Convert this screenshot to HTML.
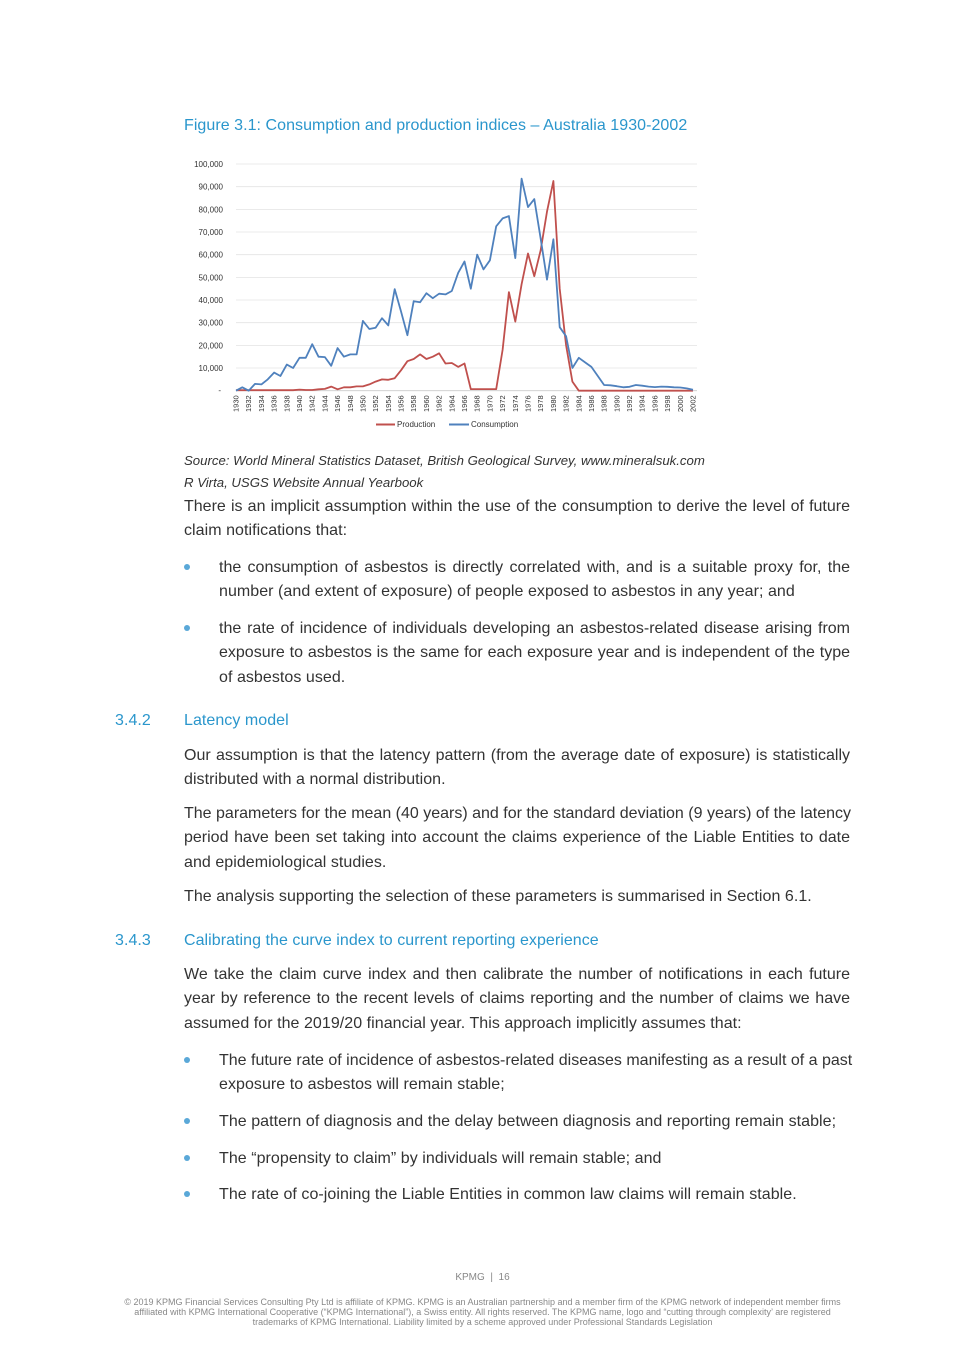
<!DOCTYPE html>
<html><head><meta charset="utf-8"><style>
body{margin:0;background:#fff;}
#p{position:relative;width:965px;height:1365px;overflow:hidden;font-family:"Liberation Sans",sans-serif;color:#333;}
.l{position:absolute;height:20px;line-height:20px;font-size:16px;white-space:nowrap;letter-spacing:0.05px;}
.j{text-align:justify;text-align-last:justify;letter-spacing:0;}
.b{color:#2a96cc;}
.dot{position:absolute;width:6px;height:6px;border-radius:3px;background:#5aa8d8;}
.i{font-style:italic;font-size:13.2px;letter-spacing:0;}
.f{position:absolute;left:0;width:965px;text-align:center;font-size:9px;color:#888;line-height:10px;}
</style></head><body><div id="p">
<div class="l b" style="left:184px;top:116px;">Figure 3.1: Consumption and production indices – Australia 1930-2002</div>
<svg id="ch" style="position:absolute;left:0;top:0" width="965" height="440"></svg>
<div class="l i" style="left:184px;top:451px;">Source: World Mineral Statistics Dataset, British Geological Survey, www.mineralsuk.com</div>
<div class="l i" style="left:184px;top:473px;">R Virta, USGS Website Annual Yearbook</div>
<div class="l j" style="left:184px;top:497px;width:666px;">There is an implicit assumption within the use of the consumption to derive the level of future</div>
<div class="l" style="left:184px;top:521px;">claim notifications that:</div>
<div class="dot" style="left:184px;top:564px"></div>
<div class="l j" style="left:219px;top:558px;width:631px;">the consumption of asbestos is directly correlated with, and is a suitable proxy for, the</div>
<div class="l" style="left:219px;top:582px;">number (and extent of exposure) of people exposed to asbestos in any year; and</div>
<div class="dot" style="left:184px;top:625px"></div>
<div class="l j" style="left:219px;top:619px;width:631px;">the rate of incidence of individuals developing an asbestos-related disease arising from</div>
<div class="l j" style="left:219px;top:643px;width:631px;">exposure to asbestos is the same for each exposure year and is independent of the type</div>
<div class="l" style="left:219px;top:668px;">of asbestos used.</div>
<div class="l b" style="left:115px;top:711px;">3.4.2</div>
<div class="l b" style="left:184px;top:711px;">Latency model</div>
<div class="l j" style="left:184px;top:746px;width:666px;">Our assumption is that the latency pattern (from the average date of exposure) is statistically</div>
<div class="l" style="left:184px;top:770px;">distributed with a normal distribution.</div>
<div class="l j" style="left:184px;top:804px;width:666px;">The parameters for the mean (40 years) and for the standard deviation (9 years) of the latency</div>
<div class="l j" style="left:184px;top:828px;width:666px;">period have been set taking into account the claims experience of the Liable Entities to date</div>
<div class="l" style="left:184px;top:853px;">and epidemiological studies.</div>
<div class="l" style="left:184px;top:887px;">The analysis supporting the selection of these parameters is summarised in Section 6.1.</div>
<div class="l b" style="left:115px;top:931px;">3.4.3</div>
<div class="l b" style="left:184px;top:931px;">Calibrating the curve index to current reporting experience</div>
<div class="l j" style="left:184px;top:965px;width:666px;">We take the claim curve index and then calibrate the number of notifications in each future</div>
<div class="l j" style="left:184px;top:989px;width:666px;">year by reference to the recent levels of claims reporting and the number of claims we have</div>
<div class="l" style="left:184px;top:1014px;">assumed for the 2019/20 financial year. This approach implicitly assumes that:</div>
<div class="dot" style="left:184px;top:1057px"></div>
<div class="l j" style="left:219px;top:1051px;width:631px;">The future rate of incidence of asbestos-related diseases manifesting as a result of a past</div>
<div class="l" style="left:219px;top:1075px;">exposure to asbestos will remain stable;</div>
<div class="dot" style="left:184px;top:1118px"></div>
<div class="l" style="left:219px;top:1112px;">The pattern of diagnosis and the delay between diagnosis and reporting remain stable;</div>
<div class="dot" style="left:184px;top:1155px"></div>
<div class="l" style="left:219px;top:1149px;">The “propensity to claim” by individuals will remain stable; and</div>
<div class="dot" style="left:184px;top:1191px"></div>
<div class="l" style="left:219px;top:1185px;">The rate of co-joining the Liable Entities in common law claims will remain stable.</div>
<div class="f" style="top:1273px;font-size:10px;">KPMG &nbsp;|&nbsp; 16</div>
<div class="f" style="top:1297px;">© 2019 KPMG Financial Services Consulting Pty Ltd is affiliate of KPMG. KPMG is an Australian partnership and a member firm of the KPMG network of independent member firms</div>
<div class="f" style="top:1307px;">affiliated with KPMG International Cooperative (“KPMG International”), a Swiss entity. All rights reserved. The KPMG name, logo and “cutting through complexity’ are registered</div>
<div class="f" style="top:1317px;">trademarks of KPMG International. Liability limited by a scheme approved under Professional Standards Legislation</div>
</div>
<script>
var C=[0,1500,0,3000,2800,5000,8000,6500,11500,10000,14500,14500,20500,15000,14800,11000,18800,15000,16000,16000,30800,27200,27800,32000,28800,44800,35000,24500,39500,39000,43000,40800,42800,42500,44000,52000,57000,45000,60000,53500,57500,72500,76000,77000,58500,93500,81000,84500,67000,49000,66800,28000,24000,10000,14500,12500,10500,6500,2500,2400,2000,1500,1700,2500,2200,1800,1600,1800,1700,1500,1400,1000,400];
var P=[200,200,200,200,200,200,200,200,200,200,500,300,300,600,800,1800,600,1500,1500,1900,1900,2800,4000,5000,4800,5500,9000,13000,14000,16000,14000,15000,16500,12000,12200,10500,12000,700,700,700,700,700,18000,43500,30500,47000,60500,50500,62000,79000,92500,45000,20000,4000,0,0,0,0,0,0,0,0,0,0,0,0,0,0,0,0,0,0,0];
var x0=236,x1=693,y0=390.7,k=22.67/10000,s='';
function X(i){return x0+(x1-x0)*i/72}
for(var g=1;g<=10;g++){var y=y0-g*10000*k;s+='<line x1="236" x2="697" y1="'+y+'" y2="'+y+'" stroke="#e4e4e4" stroke-width="0.8"/>';
s+='<text x="223" y="'+(y+3)+'" font-size="8" text-anchor="end" fill="#333" font-family="Liberation Sans">'+(g*10)+',000</text>';}
s+='<line x1="236" x2="697" y1="'+y0+'" y2="'+y0+'" stroke="#ccc" stroke-width="0.8"/><text x="221" y="393" font-size="8" text-anchor="end" fill="#333">-</text>';
for(var i=0;i<73;i+=2){s+='<text transform="translate('+(X(i)+2.5)+',412) rotate(-90)" font-size="7.5" fill="#333" font-family="Liberation Sans">'+(1930+i)+'</text>';}
function pl(d,c){var p=d.map(function(v,i){return X(i).toFixed(1)+','+(y0-v*k).toFixed(1)}).join(' ');return '<polyline points="'+p+'" fill="none" stroke="'+c+'" stroke-width="1.8" stroke-linejoin="round"/>';}
s+=pl(P,'#c0504d')+pl(C,'#4f81bd');
s+='<line x1="376" x2="395" y1="424.5" y2="424.5" stroke="#c0504d" stroke-width="2"/><text x="397" y="427" font-size="8" fill="#333" font-family="Liberation Sans">Production</text>';
s+='<line x1="449" x2="469" y1="424.5" y2="424.5" stroke="#4f81bd" stroke-width="2"/><text x="471" y="427" font-size="8" fill="#333" font-family="Liberation Sans">Consumption</text>';
document.getElementById('ch').innerHTML=s;
</script>
</body></html>
